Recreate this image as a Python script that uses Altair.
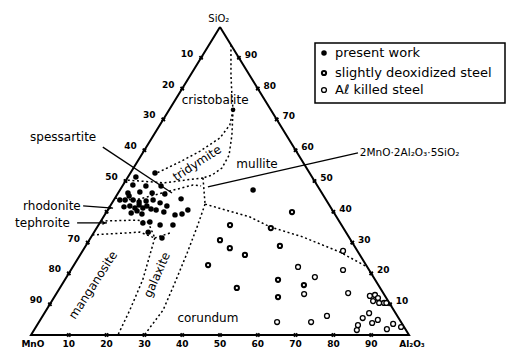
import altair as alt
import pandas as pd

FONT = "DejaVu Sans"

# ---------------- data (SiO2 %, Al2O3 %) ----------------
present_sio2 = [52.6, 51.3, 48.7, 48.4, 48.4, 46.1, 46.4, 46.1, 45.8, 44.2, 43.8, 43.8, 43.2, 43.5,
                43.8, 42.9, 41.6, 41.9, 41.2, 42.2, 41.2, 41.9, 40.9, 40.3, 39.6, 39.3, 40.6, 39.9,
                39.0, 39.3, 40.6, 41.9, 36.4, 36.7, 35.7, 35.7, 33.4, 31.5, 45.1, 43.8, 47.1]
present_al2o3 = [6.5, 2.1, 2.6, 6.2, 10.2, 2.6, 5.6, 9.0, 12.5, 17.6, 3.0, 5.1, 7.0, 8.7,
                 10.4, 12.7, 3.8, 5.2, 6.9, 7.5, 9.0, 9.7, 11.3, 7.9, 6.7, 9.7, 12.8, 15.2,
                 18.6, 20.3, 21.2, 15.0, 11.4, 13.1, 16.3, 19.7, 14.3, 18.9, 3.4, 1.6, 35.2]

deox_sio2 = [39.9, 34.7, 35.7, 30.8, 28.2, 26.0, 22.7, 15.3, 17.9, 16.2, 12.3, 28.9]
deox_al2o3 = [49.1, 46.1, 34.8, 34.6, 38.5, 43.6, 35.5, 46.8, 56.4, 64.1, 59.2, 51.4]

alkilled_sio2 = [22.1, 18.8, 13.3, 27.3, 21.1, 13.6, 4.2, 4.2, 6.2, 12.7, 13.0, 12.0, 11.0,
                 10.4, 10.4, 10.4, 5.5, 3.2, 1.6, 3.9, 4.9, 7.1, 1.9, 3.6, 2.6]
alkilled_al2o3 = [59.6, 65.7, 65.6, 68.9, 72.0, 77.1, 63.0, 72.0, 75.2, 83.3, 84.5, 85.8, 85.0,
                  86.9, 88.2, 88.8, 85.0, 84.9, 85.4, 88.3, 89.3, 85.9, 93.2, 94.0, 96.6]

# phase-field boundaries, (SiO2, Al2O3) vertices
boundaries = {
    "cristobalite_mullite": [(94.2, 5.8), (84.4, 10.7), (77.9, 14.2), (73.1, 16.9)],
    "tridymite_upper": [(73.1, 16.9), (68.2, 18.5), (64.0, 18.0), (59.7, 14.9), (56.2, 11.3), (52.6, 7.0)],
    "tridymite_lower": [(73.1, 16.9), (64.9, 20.7), (58.4, 23.2), (54.2, 23.4), (51.9, 21.9), (51.0, 20.0)],
    "tridymite_base": [(51.0, 20.0), (50.3, 15.6), (49.4, 10.7), (50.3, 0.0)],
    "spessartite_base": [(44.5, 0.0), (43.8, 5.6), (48.7, 18.5), (48.4, 20.8)],
    "rhodonite_right": [(51.0, 20.0), (42.5, 24.8)],
    "rhodonite_base": [(37.0, 0.0), (37.3, 9.4), (36.7, 12.6)],
    "tephroite_base": [(32.5, 0.0), (33.4, 12.1), (31.5, 17.0)],
    "tephroite_right": [(36.7, 12.6), (31.5, 17.0)],
    "galaxite_corundum": [(42.5, 24.8), (35.1, 26.4), (26.6, 28.0), (16.9, 29.6), (8.1, 30.9), (0.0, 30.0)],
    "manganosite_galaxite": [(31.5, 17.0), (17.9, 20.6), (8.1, 22.1), (0.0, 23.0)],
    "galaxite_top": [(31.5, 17.0), (33.1, 20.2)],
    "mullite_corundum": [(42.5, 24.8), (38.3, 38.8), (35.1, 45.7), (31.8, 56.1), (26.9, 68.3), (22.1, 77.9)],
}
junction_sio2 = [73.1]
junction_al2o3 = [16.9]

ticks = [10, 20, 30, 40, 50, 60, 70, 80, 90]
left_tick_labels = ["90", "80", "70", "", "50", "40", "30", "20", "10"]
legend_labels = ["present work", "slightly deoxidized steel", "A\u2113 killed steel"]

# ---------------- helpers ----------------
xs = alt.Scale(domain=[0, 100], nice=False, zero=False)
ys = alt.Scale(domain=[0, 100], nice=False, zero=False)
calc = dict(x="datum.al + datum.si / 2", y="datum.si")


def enc(**kw):
    return dict(x=alt.X("x:Q", scale=xs, axis=None), y=alt.Y("y:Q", scale=ys, axis=None), **kw)


def tdf(si, al):
    return pd.DataFrame({"si": si, "al": al})


# triangle frame
frame = pd.DataFrame({"si": [100, 0, 0, 100], "al": [0, 0, 100, 0], "i": [0, 1, 2, 3]})
frame_layer = alt.Chart(frame).mark_line(color="black", strokeWidth=2).transform_calculate(**calc).encode(
    **enc(order="i:Q"))

# boundaries
rows = []
for name, pts in boundaries.items():
    for i, (s, a) in enumerate(pts):
        rows.append({"id": name, "i": i, "si": s, "al": a})
bnd = pd.DataFrame(rows)
bnd_layer = alt.Chart(bnd).mark_line(color="black", strokeWidth=1.5, strokeDash=[2, 2.6]).transform_calculate(
    **calc).encode(**enc(detail="id:N", order="i:Q"))

junction_layer = alt.Chart(tdf(junction_sio2, junction_al2o3)).mark_circle(
    color="black", opacity=1, size=22).transform_calculate(**calc).encode(**enc())

# ticks on the three edges
left = pd.DataFrame({"si": ticks, "al": [0] * 9, "lab": left_tick_labels})
right = pd.DataFrame({"si": ticks, "al": [100 - t for t in ticks], "lab": [str(t) for t in ticks]})
bottom = pd.DataFrame({"si": [0] * 9, "al": ticks, "lab": [str(t) for t in ticks]})
tick_all = pd.concat([left, right, bottom])
tick_marks = alt.Chart(tick_all).mark_point(shape="cross", filled=True, color="black", size=22, angle=45,
                                             opacity=1).transform_calculate(**calc).encode(**enc())
tl_style = dict(font=FONT, fontSize=9, fontWeight="bold", color="black", baseline="middle")
left_lab = alt.Chart(left).mark_text(dx=-14, dy=-4, **tl_style).transform_calculate(**calc).encode(
    **enc(text="lab:N"))
right_lab = alt.Chart(right).mark_text(dx=12, dy=-3, **tl_style).transform_calculate(**calc).encode(
    **enc(text="lab:N"))
bottom_lab = alt.Chart(bottom).mark_text(dy=9, **tl_style).transform_calculate(**calc).encode(
    **enc(text="lab:N"))

# data points
present_layer = alt.Chart(tdf(present_sio2, present_al2o3)).mark_circle(
    color="black", opacity=1, size=30).transform_calculate(**calc).encode(**enc())
deox_layer = alt.Chart(tdf(deox_sio2, deox_al2o3)).mark_point(
    shape="circle", filled=False, fill="white", stroke="black", strokeWidth=2.0, size=18, opacity=1
).transform_calculate(**calc).encode(**enc())
al_layer = alt.Chart(tdf(alkilled_sio2, alkilled_al2o3)).mark_point(
    shape="circle", filled=False, fill="white", stroke="black", strokeWidth=1.3, size=24, opacity=1
).transform_calculate(**calc).encode(**enc())

# annotations in diagram (cartesian) coordinates
lab_style = dict(font=FONT, fontSize=12, color="black", baseline="middle")
labels = pd.DataFrame({
    "x": [48.7, 8.5, 59.8, 46.8],
    "y": [76.3, 64.3, 55.5, 5.5],
    "t": ["cristobalite", "spessartite", "mullite", "corundum"],
})
lab_layer = alt.Chart(labels).mark_text(**lab_style).encode(**enc(text="t:N"))
left_labels = pd.DataFrame({"x": [-2.1, -4.2], "y": [41.9, 36.4], "t": ["rhodonite", "tephroite"]})
left_lab_layer = alt.Chart(left_labels).mark_text(align="left", **lab_style).encode(**enc(text="t:N"))
trid = alt.Chart(pd.DataFrame({"x": [43.9], "y": [55.8], "t": ["tridymite"]})).mark_text(
    angle=327, **lab_style).encode(**enc(text="t:N"))
mang = alt.Chart(pd.DataFrame({"x": [16.4], "y": [16.2], "t": ["manganosite"]})).mark_text(
    angle=303, **lab_style).encode(**enc(text="t:N"))
gala = alt.Chart(pd.DataFrame({"x": [33.3], "y": [19.5], "t": ["galaxite"]})).mark_text(
    angle=294, **lab_style).encode(**enc(text="t:N"))
apex = alt.Chart(pd.DataFrame({"x": [49.7], "y": [102.6], "t": ["SiO\u2082"]})).mark_text(
    font=FONT, fontSize=10, color="black", baseline="middle").encode(**enc(text="t:N"))
corners = pd.DataFrame({"x": [0.5, 100.8], "y": [-2.9, -2.9], "t": ["MnO", "Al\u2082O\u2083"]})
corner_layer = alt.Chart(corners).mark_text(font=FONT, fontSize=9, fontWeight="bold", color="black",
                                            baseline="middle").encode(**enc(text="t:N"))
comp = alt.Chart(pd.DataFrame({"x": [87.0], "y": [59.1], "t": ["2MnO\u00b72Al\u2082O\u2083\u00b75SiO\u2082"]})).mark_text(
    align="left", font=FONT, fontSize=10.5, color="black", baseline="middle").encode(**enc(text="t:N"))

# pointer lines
ptr = pd.DataFrame({
    "id": ["c", "c", "s", "s", "r", "r", "t", "t"],
    "i": [0, 1] * 4,
    "x": [46.8, 86.5, 19.0, 37.3, 13.8, 21.7, 12.2, 20.1],
    "y": [48.1, 59.1, 61.0, 46.1, 41.9, 41.2, 36.4, 36.4],
})
ptr_layer = alt.Chart(ptr).mark_line(color="black", strokeWidth=1.3).encode(**enc(detail="id:N", order="i:Q"))
heads = pd.DataFrame({"x": [21.0, 19.4], "y": [41.3, 36.4]})
head_layer = alt.Chart(heads).mark_point(shape="triangle-right", filled=True, color="black", size=18,
                                         opacity=1).encode(**enc())

# legend (drawn as part of the chart)
leg_box = alt.Chart(pd.DataFrame({"a": [0]})).mark_rect(fillOpacity=0, stroke="black", strokeWidth=1.5).encode(
    x=alt.value(284), x2=alt.value(474), y=alt.value(16), y2=alt.value(76))
leg_y = [26, 46, 63]
leg_txt = alt.Chart(pd.DataFrame({"t": legend_labels, "yy": leg_y})).mark_text(
    align="left", baseline="middle", font=FONT, fontSize=13, color="black").encode(
    x=alt.value(304), y=alt.Y("yy:Q", scale=None), text="t:N")
leg_p1 = alt.Chart(pd.DataFrame({"yy": [leg_y[0]]})).mark_circle(color="black", size=30, opacity=1).encode(
    x=alt.value(293), y=alt.Y("yy:Q", scale=None))
leg_p2 = alt.Chart(pd.DataFrame({"yy": [leg_y[1]]})).mark_point(
    shape="circle", filled=False, fill="white", stroke="black", strokeWidth=2.0, size=18, opacity=1).encode(
    x=alt.value(293), y=alt.Y("yy:Q", scale=None))
leg_p3 = alt.Chart(pd.DataFrame({"yy": [leg_y[2]]})).mark_point(
    shape="circle", filled=False, fill="white", stroke="black", strokeWidth=1.3, size=24, opacity=1).encode(
    x=alt.value(293), y=alt.Y("yy:Q", scale=None))

chart = alt.layer(
    bnd_layer, frame_layer, tick_marks, junction_layer, ptr_layer, head_layer,
    present_layer, deox_layer, al_layer,
    left_lab, right_lab, bottom_lab, lab_layer, left_lab_layer, trid, mang, gala, apex, corner_layer, comp,
    leg_box, leg_txt, leg_p1, leg_p2, leg_p3,
).properties(
    width=378, height=308,
    autosize=alt.AutoSizeParams(type="none"),
    padding={"left": 31, "top": 27, "right": 97, "bottom": 17},
    background="white",
).configure_view(strokeWidth=0)

chart.save("out.html", embed_options={"renderer": "svg", "actions": False})
